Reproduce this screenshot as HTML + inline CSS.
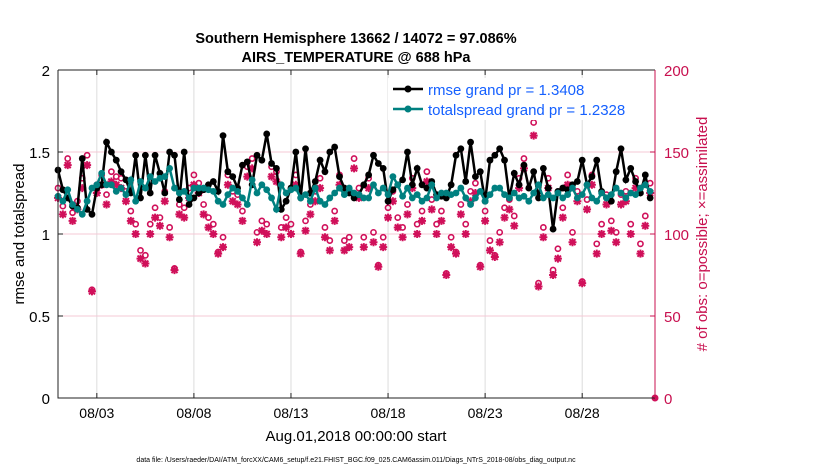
<!DOCTYPE html>
<html><head><meta charset="utf-8"><style>
body{margin:0;background:#fff;font-family:"Liberation Sans",Arial,sans-serif}
svg{display:block}
</style></head><body>
<svg id="c" width="830" height="470" xmlns="http://www.w3.org/2000/svg">
<text x="356" y="43" text-anchor="middle" font-size="14.5" font-weight="bold">Southern Hemisphere 13662 / 14072 = 97.086%</text>
<text x="356" y="62" text-anchor="middle" font-size="14.5" font-weight="bold">AIRS_TEMPERATURE @ 688 hPa</text>
<g id="grid"></g><g id="marks"></g><g id="axes"></g>
<text transform="translate(24,234) rotate(-90)" text-anchor="middle" font-size="15">rmse and totalspread</text>
<text transform="translate(707,234) rotate(-90)" text-anchor="middle" font-size="15" fill="#c8104f"># of obs: o=possible; ×=assimilated</text>
<text x="356" y="441" text-anchor="middle" font-size="15">Aug.01,2018 00:00:00 start</text>
<text x="356" y="462" text-anchor="middle" font-size="7">data file: /Users/raeder/DAI/ATM_forcXX/CAM6_setup/f.e21.FHIST_BGC.f09_025.CAM6assim.011/Diags_NTrS_2018-08/obs_diag_output.nc</text>
<g id="legend"></g>
</svg>
<script>
const xTicks=[2,7,12,17,22,27];
const xTickLabels=["08/03","08/08","08/13","08/18","08/23","08/28"];
const yTicks=[0,0.5,1,1.5,2];
const y2Ticks=[0,50,100,150,200];
const rmse=[1.39,1.27,1.22,1.17,1.16,1.46,1.15,1.12,1.28,1.30,1.56,1.50,1.45,1.38,1.33,1.25,1.48,1.22,1.48,1.25,1.48,1.37,1.25,1.50,1.48,1.21,1.50,1.18,1.22,1.25,1.27,1.30,1.32,1.26,1.60,1.38,1.35,1.28,1.42,1.44,1.30,1.48,1.45,1.61,1.43,1.40,1.15,1.20,1.28,1.50,1.22,1.52,1.25,1.32,1.45,1.38,1.50,1.53,1.35,1.28,1.25,1.22,1.24,1.30,1.36,1.48,1.43,1.40,1.20,1.27,1.30,1.33,1.50,1.30,1.40,1.30,1.28,1.32,1.24,1.23,1.22,1.30,1.48,1.52,1.32,1.56,1.35,1.38,1.20,1.45,1.48,1.52,1.45,1.22,1.37,1.30,1.42,1.28,1.38,1.22,1.40,1.28,1.03,1.26,1.28,1.27,1.30,1.32,1.45,1.30,1.35,1.45,1.26,1.22,1.20,1.38,1.52,1.33,1.40,1.32,1.25,1.36,1.22,1.38,1.28,1.30,1.25,1.24,1.28,1.46,1.35];
const spread=[1.23,1.20,1.27,1.18,1.15,1.12,1.20,1.28,1.30,1.37,1.30,1.30,1.26,1.28,1.24,1.33,1.20,1.32,1.28,1.35,1.32,1.34,1.35,1.40,1.28,1.25,1.26,1.22,1.28,1.28,1.28,1.27,1.26,1.20,1.18,1.24,1.28,1.26,1.22,1.18,1.33,1.25,1.30,1.27,1.22,1.15,1.30,1.25,1.27,1.28,1.22,1.24,1.20,1.28,1.20,1.18,1.22,1.25,1.28,1.24,1.28,1.25,1.24,1.22,1.22,1.30,1.25,1.28,1.24,1.35,1.30,1.23,1.28,1.22,1.24,1.20,1.22,1.30,1.22,1.25,1.25,1.24,1.25,1.28,1.22,1.18,1.22,1.26,1.20,1.24,1.28,1.28,1.24,1.22,1.25,1.22,1.23,1.20,1.25,1.30,1.22,1.24,1.22,1.25,1.22,1.24,1.28,1.22,1.24,1.30,1.22,1.20,1.25,1.22,1.24,1.28,1.25,1.22,1.25,1.24,1.28,1.30,1.26];
const assim=[122,112,142,108,115,128,142,65,125,130,118,132,130,128,120,108,100,85,82,100,110,105,120,98,78,112,110,122,130,125,112,104,100,88,92,130,120,118,108,135,140,95,102,100,135,132,98,104,100,130,88,102,112,120,128,98,90,108,130,90,92,140,122,92,128,95,80,92,110,120,104,98,112,128,100,108,132,115,100,108,75,92,88,112,100,120,125,80,108,90,86,95,110,115,105,128,140,175,160,68,98,128,75,85,110,130,95,120,70,115,130,88,100,118,102,95,118,120,100,128,88,105,125,120];
const possible=[128,117,146,113,120,134,148,66,130,136,124,138,135,134,126,114,106,90,87,106,116,110,126,104,79,118,116,128,136,131,118,110,106,89,98,136,126,124,114,141,146,101,108,106,141,138,104,110,106,136,89,108,118,126,134,104,96,114,136,96,98,146,128,98,134,101,81,98,116,126,110,104,118,134,106,114,138,121,106,114,76,98,89,118,106,126,131,81,114,96,87,101,116,121,111,134,146,176,168,70,104,134,78,91,116,136,101,126,71,121,136,94,106,124,108,101,124,126,106,134,94,111,131,126];
const L=58,R=655,T=70,B=398,days=30.75;
const X=d=>L+(d/days)*(R-L);
const Y=v=>B-(v/2)*(B-T);
const Y2=v=>B-(v/200)*(B-T);
const NS="http://www.w3.org/2000/svg";
function mk(p,t,a){const e=document.createElementNS(NS,t);for(const k in a)e.setAttribute(k,a[k]);p.appendChild(e);return e;}
const g=document.getElementById('grid'),m=document.getElementById('marks'),ax=document.getElementById('axes'),lg=document.getElementById('legend');
xTicks.forEach((d,i)=>{
 const l=mk(g,'line',{x1:X(d),x2:X(d),y1:T,y2:B,stroke:'#dcdcdc','stroke-width':1});
 
 
 const t=mk(ax,'text',{x:X(d),y:B+20,'text-anchor':'middle','font-size':14});t.textContent=xTickLabels[i];
 
 
 mk(ax,'line',{x1:X(d),x2:X(d),y1:B,y2:B-5,stroke:'#222'});
 mk(ax,'line',{x1:X(d),x2:X(d),y1:T,y2:T+5,stroke:'#222'});
});
yTicks.forEach(v=>{
 if(v>0&&v<2){const l=mk(g,'line',{x1:L,x2:R,y1:Y(v),y2:Y(v),stroke:'#f5c8d6','stroke-width':1});
 
 }
 const t=mk(ax,'text',{x:L-8,y:Y(v)+6,'text-anchor':'end','font-size':15});t.textContent=v;
 
 
 mk(ax,'line',{x1:L,x2:L+5,y1:Y(v),y2:Y(v),stroke:'#222'});
});
y2Ticks.forEach(v=>{
 const t=mk(ax,'text',{x:R+9,y:Y2(v)+6,'font-size':15,fill:'#c8104f'});t.textContent=v;
 
 
 mk(ax,'line',{x1:R,x2:R-5,y1:Y2(v),y2:Y2(v),stroke:'#c8104f'});
});
const fr=mk(ax,'path',{d:`M${L},${T}V${B}H${R}M${L},${T}H${R}`,fill:'none',stroke:'#222','stroke-width':1});


const ra=mk(ax,'line',{x1:R,x2:R,y1:T,y2:B,stroke:'#c8104f','stroke-width':1});


const n=Math.min(rmse.length,spread.length,assim.length,possible.length);
const tx=i=>X(i*0.25);
function star(cx,cy,s){return `M${cx-s},${cy}H${cx+s}M${cx},${cy-s}V${cy+s}M${cx-s*0.75},${cy-s*0.75}L${cx+s*0.75},${cy+s*0.75}M${cx-s*0.75},${cy+s*0.75}L${cx+s*0.75},${cy-s*0.75}`;}
for(let i=0;i<n;i++){
 const c=mk(m,'circle',{cx:tx(i),cy:Y2(possible[i]),r:2.6,fill:'none',stroke:'#d0105a','stroke-width':1.6});
 
 
 const s=mk(m,'path',{d:star(tx(i),Y2(assim[i]),4),fill:'none',stroke:'#d0105a','stroke-width':2});
 
 
}
function series(arr,col,name){
 const p=mk(m,'polyline',{points:arr.slice(0,n).map((v,i)=>tx(i)+','+Y(v)).join(' '),fill:'none',stroke:col,'stroke-width':2.5});
 
 
 arr.slice(0,n).forEach((v,i)=>{const c=mk(m,'circle',{cx:tx(i),cy:Y(v),r:3.4,fill:col});
 
 });
}
series(rmse,'#000','rmse');
series(spread,'#008080','totalspread');
const e=mk(m,'circle',{cx:R,cy:B,r:3.5,fill:'#d0105a'});


// legend on top
mk(lg,'rect',{x:388,y:78,width:252,height:42,fill:'#fff'});
mk(lg,'line',{x1:393,y1:89,x2:423,y2:89,stroke:'#000','stroke-width':2.5});
mk(lg,'circle',{cx:408,cy:89,r:3.5,fill:'#000'});
const t1=mk(lg,'text',{x:428,y:95,'font-size':15,fill:'#1560ff'});t1.textContent='rmse grand pr = 1.3408';


mk(lg,'line',{x1:393,y1:109,x2:423,y2:109,stroke:'#008080','stroke-width':2.5});
mk(lg,'circle',{cx:408,cy:109,r:3.5,fill:'#008080'});
const t2=mk(lg,'text',{x:428,y:115,'font-size':15,fill:'#1560ff'});t2.textContent='totalspread grand pr = 1.2328';


</script>
</body></html>
